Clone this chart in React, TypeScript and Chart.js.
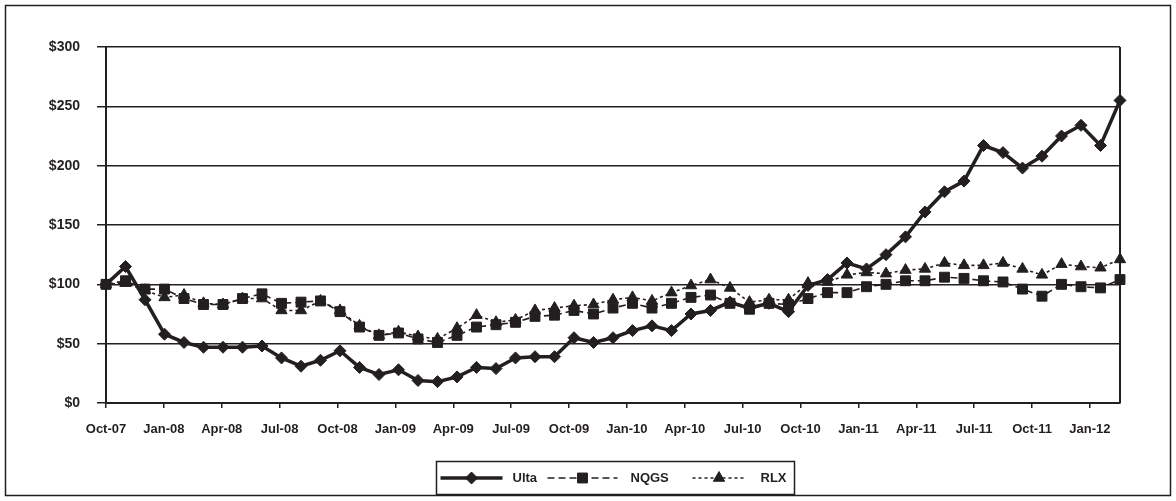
import React, { useEffect, useRef } from 'react';
import { Chart, registerables } from 'chart.js';
import { drawPoint } from 'chart.js/helpers';

Chart.register(...registerables);

// Monthly observation labels (Oct-07 .. Feb-12)
const MONTHS: string[] = [
  'Oct-07', 'Nov-07', 'Dec-07',
  'Jan-08', 'Feb-08', 'Mar-08', 'Apr-08', 'May-08', 'Jun-08', 'Jul-08', 'Aug-08', 'Sep-08', 'Oct-08', 'Nov-08', 'Dec-08',
  'Jan-09', 'Feb-09', 'Mar-09', 'Apr-09', 'May-09', 'Jun-09', 'Jul-09', 'Aug-09', 'Sep-09', 'Oct-09', 'Nov-09', 'Dec-09',
  'Jan-10', 'Feb-10', 'Mar-10', 'Apr-10', 'May-10', 'Jun-10', 'Jul-10', 'Aug-10', 'Sep-10', 'Oct-10', 'Nov-10', 'Dec-10',
  'Jan-11', 'Feb-11', 'Mar-11', 'Apr-11', 'May-11', 'Jun-11', 'Jul-11', 'Aug-11', 'Sep-11', 'Oct-11', 'Nov-11', 'Dec-11',
  'Jan-12', 'Feb-12',
];

const ULTA: number[] = [
  100, 115, 87,
  58, 51, 47, 47, 47, 48, 38, 31, 36, 44, 30, 24,
  28, 19, 18, 22, 30, 29, 38, 39, 39, 55, 51, 55,
  61, 65, 61, 75, 78, 85, 80, 84, 77, 99, 104, 118,
  113, 125, 140, 161, 178, 187, 217, 211, 198, 208, 225, 234,
  217, 255,
];

const NQGS: number[] = [
  100, 103, 96,
  96, 88, 83, 83, 88, 92, 84, 85, 86, 77, 64, 57,
  59, 54, 51, 57, 64, 66, 68, 73, 74, 78, 75, 80,
  84, 80, 84, 89, 91, 84, 79, 84, 83, 88, 93, 93,
  98, 100, 103, 103, 106, 105, 103, 102, 96, 90, 100, 98,
  97, 104,
];

const RLX: number[] = [
  100, 101, 95,
  89, 91, 84, 83, 88, 88, 78, 78, 86, 78, 65, 57,
  60, 56, 54, 63, 74, 68, 70, 78, 80, 82, 83, 87,
  89, 86, 93, 99, 104, 97, 85, 87, 87, 101, 102, 108,
  110, 109, 112, 113, 118, 116, 116, 118, 113, 108, 117, 115,
  114, 121,
];

const SERIES_NAMES: string[] = ['Ulta', 'NQGS', 'RLX'];

const TICK_LABELS: string[] = [
  'Oct-07', 'Jan-08', 'Apr-08', 'Jul-08', 'Oct-08', 'Jan-09', 'Apr-09', 'Jul-09', 'Oct-09',
  'Jan-10', 'Apr-10', 'Jul-10', 'Oct-10', 'Jan-11', 'Apr-11', 'Jul-11', 'Oct-11', 'Jan-12',
];
// spacing of the labelled tick marks, measured in observation steps
const TICK_STEP = 2.968;

const Y_MIN = 0;
const Y_MAX = 300;
const Y_STEP = 50;

const INK = '#231f20';
const FONT_FAMILY = '"Liberation Sans", Arial, Helvetica, sans-serif';

const framePlugin = {
  id: 'frame',
  beforeDraw(chart: any) {
    const ctx = chart.ctx;
    ctx.save();
    ctx.fillStyle = '#ffffff';
    ctx.fillRect(0, 0, chart.width, chart.height);
    ctx.strokeStyle = INK;
    ctx.lineWidth = 1.5;
    ctx.strokeRect(5.5, 5.5, chart.width - 11, chart.height - 11);
    ctx.restore();
  },
  beforeDatasetsDraw(chart: any) {
    const ctx = chart.ctx;
    const { top, bottom, right } = chart.chartArea;
    ctx.save();
    ctx.strokeStyle = INK;
    ctx.lineWidth = 2;
    ctx.beginPath();
    ctx.moveTo(right, top);
    ctx.lineTo(right, bottom);
    ctx.stroke();
    ctx.restore();
  },
  afterDraw(chart: any) {
    const ctx = chart.ctx;
    const { right, left } = chart.chartArea;
    ctx.save();
    ctx.strokeStyle = INK;

    // legend
    const boxW = 358;
    const boxH = 33;
    const bx = Math.round((left + right) / 2 - boxW / 2) + 2.5;
    const by = 461.5;
    ctx.lineWidth = 1.5;
    ctx.strokeRect(bx, by, boxW, boxH);
    const layout = [
      { s0: 4, s1: 66, tx: 76 },
      { s0: 111, s1: 181, tx: 194 },
      { s0: 256, s1: 309, tx: 324 },
    ];
    const cy = by + boxH / 2;
    chart.data.datasets.forEach((ds: any, i: number) => {
      const l = layout[i];
      ctx.strokeStyle = INK;
      ctx.fillStyle = INK;
      ctx.lineWidth = ds.borderWidth;
      ctx.setLineDash(ds.borderDash || []);
      ctx.beginPath();
      ctx.moveTo(bx + l.s0, cy);
      ctx.lineTo(bx + l.s1, cy);
      ctx.stroke();
      ctx.setLineDash([]);
      ctx.lineWidth = 1;
      drawPoint(ctx, { pointStyle: ds.pointStyle, radius: ds.pointRadius, rotation: 0, borderWidth: 1 }, bx + (l.s0 + l.s1) / 2, cy);
      ctx.font = `bold 13px ${FONT_FAMILY}`;
      ctx.textBaseline = 'middle';
      ctx.textAlign = 'left';
      ctx.fillText(ds.label, bx + l.tx, cy + 0.5);
    });
    ctx.restore();
  },
};

export default function App() {
  const canvasRef = useRef<HTMLCanvasElement | null>(null);

  useEffect(() => {
    const canvas = canvasRef.current;
    if (!canvas) return;
    const toPoints = (arr: number[]) => arr.map((y, i) => ({ x: i, y }));
    const chart = new Chart(canvas, {
      type: 'line',
      data: {
        datasets: [
          {
            label: SERIES_NAMES[0],
            data: toPoints(ULTA),
            borderColor: INK,
            backgroundColor: INK,
            borderWidth: 3.5,
            pointStyle: 'rectRot',
            pointRadius: 6,
            pointBorderWidth: 1,
            tension: 0,
            clip: false,
          },
          {
            label: SERIES_NAMES[1],
            data: toPoints(NQGS),
            borderColor: INK,
            backgroundColor: INK,
            borderWidth: 1.6,
            borderDash: [7, 4],
            pointStyle: 'rect',
            pointRadius: 7,
            pointBorderWidth: 1,
            tension: 0,
            clip: false,
          },
          {
            label: SERIES_NAMES[2],
            data: toPoints(RLX),
            borderColor: INK,
            backgroundColor: INK,
            borderWidth: 1.6,
            borderDash: [3, 3],
            pointStyle: 'triangle',
            pointRadius: 6.5,
            pointBorderWidth: 1,
            tension: 0,
            clip: false,
          },
        ],
      },
      options: {
        animation: false,
        responsive: true,
        maintainAspectRatio: false,
        layout: { padding: { left: 0, top: 47, right: 56, bottom: 0 } },
        plugins: {
          legend: { display: false },
          tooltip: { enabled: false },
          title: { display: false },
        },
        scales: {
          x: {
            type: 'linear',
            min: 0,
            max: MONTHS.length - 1,
            afterBuildTicks: (scale: any) => {
              scale.ticks = TICK_LABELS.map((_, k) => ({ value: k * TICK_STEP }));
            },
            afterFit: (scale: any) => {
              scale.height = 98;
            },
            grid: {
              drawOnChartArea: false,
              drawTicks: true,
              tickLength: 5,
              color: INK,
              lineWidth: 1.5,
            },
            border: { display: true, color: INK, width: 2 },
            ticks: {
              autoSkip: false,
              maxRotation: 0,
              padding: 14,
              color: INK,
              font: { family: FONT_FAMILY, size: 13, weight: 'bold' },
              callback: (_v: any, index: number) => TICK_LABELS[index],
            },
          },
          y: {
            min: Y_MIN,
            max: Y_MAX,
            afterFit: (scale: any) => {
              scale.width = 106;
            },
            grid: {
              drawOnChartArea: true,
              drawTicks: true,
              tickLength: 9,
              color: INK,
              lineWidth: 1.5,
            },
            border: { display: true, color: INK, width: 2 },
            ticks: {
              stepSize: Y_STEP,
              padding: 17,
              color: INK,
              font: { family: FONT_FAMILY, size: 14, weight: 'bold' },
              callback: (v: any) => '$' + v,
            },
          },
        },
      },
      plugins: [framePlugin],
    });
    return () => chart.destroy();
  }, []);

  return (
    <div style={{ position: 'fixed', left: 0, top: 0, width: 1176, height: 501, background: '#fff' }}>
      <canvas ref={canvasRef} />
    </div>
  );
}
